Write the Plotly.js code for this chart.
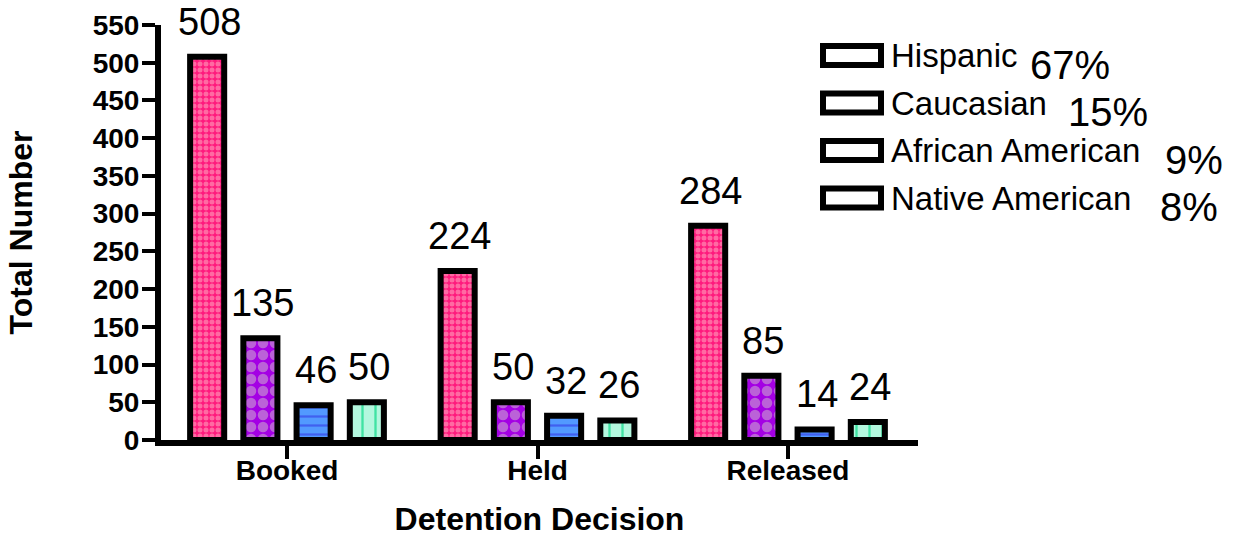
<!DOCTYPE html>
<html><head><meta charset="utf-8">
<script src="https://cdn.plot.ly/plotly-3.0.1.min.js"></script>
<style>html,body{margin:0;padding:0;background:#fff}#chart{width:1234px;height:537px}</style>
</head><body><div id="chart"></div>
<script>
// ---- data ----
const categories = ['Booked', 'Held', 'Released'];
const seriesNames = ['Hispanic', 'Caucasian', 'African American', 'Native American'];
const seriesShares = ['67%', '15%', '9%', '8%'];
const hispanic = [508, 224, 284];
const caucasian = [135, 50, 85];
const africanAmerican = [46, 32, 14];
const nativeAmerican = [50, 26, 24];
const yTickValues = [0, 50, 100, 150, 200, 250, 300, 350, 400, 450, 500, 550];

// ---- styles / layout helpers ----
const seriesValues = [hispanic, caucasian, africanAmerican, nativeAmerican];
const styles = [
  {bg: '#ff1a7d', fg: '#ff6aa3', shape: '.', size: 6, solidity: 0.55},
  {bg: '#a400e4', fg: '#bb62d8', shape: '.', size: 12, solidity: 0.6},
  {bg: '#5299ff', fg: '#4060f0', shape: '-', size: 9, solidity: 0.25},
  {bg: '#b3f7de', fg: '#3fe3a3', shape: '|', size: 13, solidity: 0.18}
];
const M = {l: 161, r: 316, t: 25, b: 97};
const W = 1234 - M.l - M.r, H = 537 - M.t - M.b;
const px2x = p => (p - M.l) / W;
const px2y = p => (M.t + H - p) / H;
const bargap = 0.15, bargroupgap = 0.36;
const nS = seriesNames.length;
const slot = (1 - bargap) / nS;
const FONT = 'Liberation Sans, Arial, Helvetica, sans-serif';

const traces = seriesValues.map((vals, i) => ({
  type: 'bar', name: seriesNames[i], x: categories, y: vals,
  marker: {
    color: styles[i].bg,
    line: {color: '#000', width: 6},
    pattern: {shape: styles[i].shape, bgcolor: styles[i].bg, fgcolor: styles[i].fg,
      fgopacity: 1, size: styles[i].size, solidity: styles[i].solidity, fillmode: 'replace'}
  },
  showlegend: false, hoverinfo: 'skip'
}));

const annotations = [];
seriesValues.forEach((vals, i) => vals.forEach((v, j) => {
  annotations.push({
    xref: 'x', yref: 'y', x: j + (i - (nS - 1) / 2) * slot, y: v,
    text: String(v), showarrow: false, yanchor: 'bottom', yshift: 12, xshift: 2,
    font: {family: FONT, size: 38, color: '#000'}
  });
}));

// custom legend
const rowCenters = [55.5, 103, 150.5, 198];
const shareX = [1030, 1068, 1165, 1160];
const shapes = [];
seriesNames.forEach((name, i) => {
  const c = rowCenters[i];
  shapes.push({type: 'rect', xref: 'paper', yref: 'paper',
    x0: px2x(823), x1: px2x(881), y0: px2y(c - 9.5), y1: px2y(c + 9.5),
    line: {color: '#000', width: 6}, fillcolor: '#fff'});
  annotations.push({xref: 'paper', yref: 'paper', x: px2x(889), y: px2y(c), xanchor: 'left', yanchor: 'middle',
    text: name, showarrow: false, font: {family: FONT, size: 33, color: '#000'}});
  annotations.push({xref: 'paper', yref: 'paper', x: px2x(shareX[i] - 2), y: px2y(c + 9), xanchor: 'left', yanchor: 'middle',
    text: seriesShares[i], showarrow: false, font: {family: FONT, size: 40, color: '#000'}});
});

const tickFont = {family: FONT, size: 28, color: '#000', weight: 'bold'};
const titleFont = {family: FONT, size: 32, color: '#000', weight: 'bold'};

const layout = {
  width: 1234, height: 537,
  margin: M,
  paper_bgcolor: '#fff', plot_bgcolor: '#fff',
  barmode: 'group', bargap: bargap, bargroupgap: bargroupgap,
  showlegend: false,
  xaxis: {
    type: 'category', range: [-0.503, 2.519],
    showline: true, linecolor: '#000', linewidth: 6,
    ticks: 'outside', ticklen: 13, tickwidth: 4, tickcolor: '#000',
    ticklabelstandoff: -13,
    tickfont: tickFont, showgrid: false, zeroline: false,
    title: {text: 'Detention Decision', font: titleFont, standoff: 40},
    fixedrange: true
  },
  yaxis: {
    range: [0, 550], tickmode: 'array', tickvals: yTickValues,
    showline: true, linecolor: '#000', linewidth: 6,
    ticks: 'outside', ticklen: 13, tickwidth: 4, tickcolor: '#000',
    ticklabelstandoff: -3,
    tickfont: tickFont, showgrid: false, zeroline: false,
    title: {text: 'Total Number', font: titleFont, standoff: 52},
    fixedrange: true
  },
  shapes: shapes,
  annotations: annotations
};

Plotly.newPlot('chart', traces, layout, {displayModeBar: false, staticPlot: true});
</script>
</body></html>
